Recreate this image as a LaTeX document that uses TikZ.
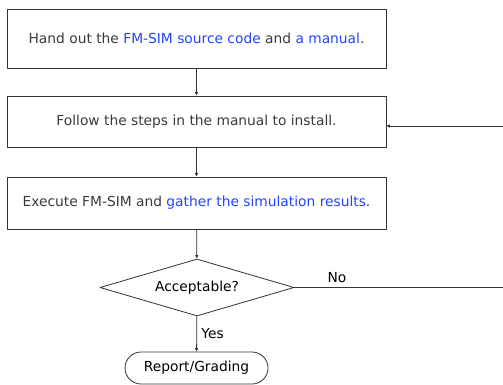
\documentclass[tikz,border=0pt]{standalone}
\usepackage{fontspec}
\setmainfont{DejaVu Sans}
\usetikzlibrary{arrows.meta,shapes.geometric,shapes.misc}
\definecolor{txtgray}{HTML}{3A3A3A}
\definecolor{linkblue}{HTML}{2244FF}
\definecolor{linegray}{HTML}{333333}
\tikzset{
  stepbox/.style={draw=linegray,line width=0.8pt,minimum width=379pt,text=txtgray,
    inner sep=0pt,font=\fontsize{13.8}{16}\selectfont},
  flow/.style={draw=linegray,line width=0.8pt,-{Latex[length=3.5pt,width=3.5pt]}},
  lbl/.style={font=\fontsize{13.8}{16}\selectfont,text=black}
}
\newcommand{\lk}[1]{\textcolor{linkblue}{#1}}
\begin{document}
\begin{tikzpicture}[x=1pt,y=-1pt,line cap=round,line join=round]
  \useasboundingbox (0,0) rectangle (503,385);

  \node[stepbox,minimum height=59pt] (hand) at (196.5,38.5)
    {Hand out the \lk{FM-SIM source code} and \lk{a manual}.};
  \node[stepbox,minimum height=51pt] (install) at (196.5,121.5)
    {Follow the steps in the manual to install.};
  \node[stepbox,minimum height=52pt] (exec) at (196.5,203)
    {Execute FM-SIM and \lk{gather the simulation results}.};

  \node[diamond,draw=linegray,line width=0.8pt,aspect=3.4,minimum width=194pt,minimum height=57pt,
    inner sep=0pt,lbl] (accept) at (197,287.5) {Acceptable?};
  \node[rounded rectangle,draw=linegray,line width=0.8pt,minimum width=143pt,minimum height=32pt,
    inner sep=0pt,lbl] (report) at (196.5,368) {Report/Grading};

  \coordinate (turn) at (507,287.5);

  \draw[flow] (hand) -- (install);
  \draw[flow] (install) -- (exec);
  \draw[flow] (exec) -- (accept);
  \draw[flow] (accept) -- node[right,lbl,xshift=1pt] {Yes} (report);
  \draw[flow] (accept.east) -- node[pos=0.2,above,lbl,yshift=1pt] {No} (turn)
    |- ([yshift=-4.5pt]install.east);
\end{tikzpicture}
\end{document}
